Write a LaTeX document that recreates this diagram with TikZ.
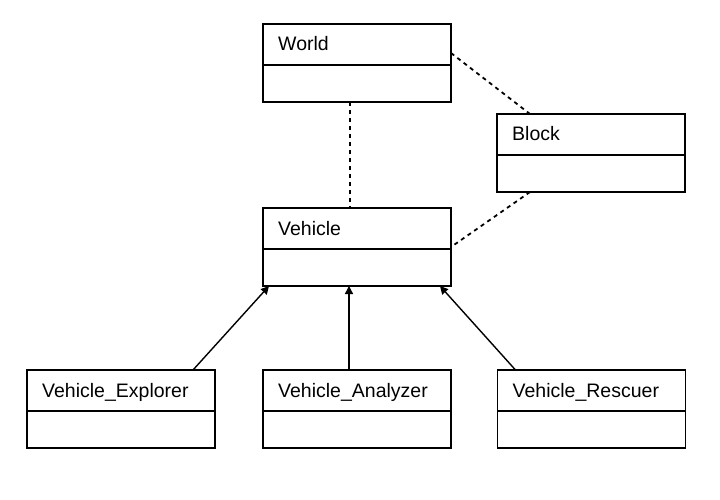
\documentclass[tikz,border=0pt]{standalone}
\usepackage{fontspec}
\setmainfont{Liberation Sans}
\usetikzlibrary{arrows.meta,positioning}

\newcommand{\umlpart}[2]{%
  \draw[line width=1.3pt] ([yshift=-41pt]#1.north west) -- ([yshift=-41pt]#1.north east);
  \node[classname] (#1-name) at ([xshift=15pt,yshift=-27pt]#1.north west) {#2};}

\begin{document}
\begin{tikzpicture}[x=1pt,y=-1pt,>={Triangle[length=8pt,width=8pt]},node distance=184pt]
  \tikzstyle{classbox}=[rectangle,draw,line width=1.8pt,minimum width=188pt,minimum height=78pt,inner sep=0pt,outer sep=0pt]
  \tikzstyle{classname}=[anchor=base west,inner sep=0pt,font=\fontsize{19.5}{23}\selectfont]
  \tikzstyle{assoc}=[line width=1.8pt,dash pattern=on 4pt off 4pt]
  \tikzstyle{inherit}=[->,line width=1.4pt]

  \useasboundingbox (0,0) rectangle (720,500);

  \node[classbox] (world) at (357,63) {};
  \node[classbox] (vehicle) [below of= world] {};
  \node[classbox] (block) [right of= world,xshift=50pt,yshift=-90pt] {};
  \node[classbox] (analyzer) [below of= vehicle,yshift=22pt] {};
  \node[classbox] (explorer) [left of= analyzer,xshift=-52pt] {};
  \node[classbox] (rescuer) [right of= analyzer,xshift=50.5pt] {};

  \umlpart{world}{World}
  \umlpart{block}{Block}
  \umlpart{vehicle}{Vehicle}
  \umlpart{explorer}{Vehicle\_Explorer}
  \umlpart{analyzer}{Vehicle\_Analyzer}
  \umlpart{rescuer}{Vehicle\_Rescuer}

  \draw[assoc] ([xshift=-7pt]world.south) -- ([xshift=-7pt]vehicle.north);
  \draw[assoc] ([yshift=10pt]world.east) -- ([xshift=-61pt]block.north);
  \draw[assoc] ([xshift=-61pt]block.south) -- (vehicle.east);

  \draw[inherit] ([xshift=72pt]explorer.north) -- ([xshift=-88pt]vehicle.south);
  \draw[inherit] ([xshift=-8pt]analyzer.north) -- ([xshift=-8pt]vehicle.south);
  \draw[inherit] ([xshift=-76pt]rescuer.north) -- ([xshift=83pt]vehicle.south);
\end{tikzpicture}
\end{document}
